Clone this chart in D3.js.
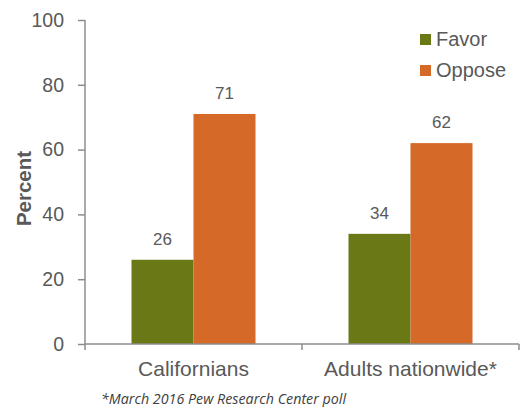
<!DOCTYPE html>
<html>
<head>
<meta charset="utf-8">
<script src="https://cdn.jsdelivr.net/npm/d3@7"></script>
<style>
  html, body { margin: 0; padding: 0; background: #fff; }
  svg { display: block; }
</style>
</head>
<body>
<svg id="chart" width="520" height="407"></svg>
<script>
// Survey results: share favoring / opposing, by group
const categories = ["Californians", "Adults nationwide*"];
const seriesNames = ["Favor", "Oppose"];
const favorValues = [26, 34];
const opposeValues = [71, 62];
const yTicks = [0, 20, 40, 60, 80, 100];
const footnote = "*March 2016 Pew Research Center poll";

const colors = { Favor: "#6A7815", Oppose: "#D46928" };
const textColor = "#595959";
const axisColor = "#8C8C8C";
const font = "Liberation Sans, Arial, sans-serif";

const svg = d3.select("#chart");
const margin = { left: 85, right: 1, top: 20, bottom: 63 };
const width = 520, height = 407;
const plotW = width - margin.left - margin.right;
const plotH = height - margin.top - margin.bottom;

const rows = categories.map((c, i) => ({
  category: c,
  values: [
    { series: "Favor", value: favorValues[i] },
    { series: "Oppose", value: opposeValues[i] }
  ]
}));

const x0 = d3.scaleBand().domain(categories).range([0, plotW]).paddingInner(0).paddingOuter(0);
const x1 = d3.scaleBand().domain(seriesNames).range([0, x0.bandwidth()]).paddingInner(0).paddingOuter(0.75);
const y = d3.scaleLinear().domain([0, 100]).range([plotH, 0]);

const g = svg.append("g").attr("transform", `translate(${margin.left},${margin.top})`);

// Bars
const groups = g.selectAll(".grp").data(rows).join("g")
  .attr("class", "grp")
  .attr("transform", d => `translate(${x0(d.category)},0)`);

groups.selectAll("rect").data(d => d.values).join("rect")
  .attr("x", d => x1(d.series))
  .attr("y", d => y(d.value))
  .attr("width", x1.bandwidth())
  .attr("height", d => plotH - y(d.value))
  .attr("fill", d => colors[d.series]);

// Value labels
groups.selectAll("text.val").data(d => d.values).join("text")
  .attr("class", "val")
  .attr("x", d => x1(d.series) + x1.bandwidth() / 2)
  .attr("y", d => y(d.value) - 15)
  .attr("text-anchor", "middle")
  .attr("font-family", font)
  .attr("font-size", 17)
  .attr("fill", textColor)
  .text(d => d.value);

// Y axis
const yAxis = g.append("g")
  .call(d3.axisLeft(y).tickValues(yTicks).tickSize(7).tickPadding(14));
yAxis.select(".domain").attr("stroke", axisColor).attr("stroke-width", 1.5)
  .attr("d", `M0,${plotH}V0`);
yAxis.selectAll(".tick line").attr("stroke", axisColor).attr("stroke-width", 1.5);
yAxis.selectAll(".tick text")
  .attr("font-family", font)
  .attr("font-size", 19.5)
  .attr("fill", textColor);

// X axis with boundary ticks
const xAxis = g.append("g").attr("transform", `translate(0,${plotH})`);
xAxis.append("line").attr("x1", 0).attr("x2", plotW).attr("y1", 0).attr("y2", 0)
  .attr("stroke", axisColor).attr("stroke-width", 1.5);
const bounds = categories.map(c => x0(c)).concat([plotW]);
xAxis.selectAll("line.tk").data(bounds).join("line")
  .attr("class", "tk")
  .attr("x1", d => d).attr("x2", d => d)
  .attr("y1", 0).attr("y2", 6)
  .attr("stroke", axisColor).attr("stroke-width", 1.5);
xAxis.selectAll("text").data(categories).join("text")
  .attr("x", d => x0(d) + x0.bandwidth() / 2)
  .attr("y", 32)
  .attr("text-anchor", "middle")
  .attr("font-family", font)
  .attr("font-size", 21)
  .attr("fill", textColor)
  .text(d => d);

// Y axis title
svg.append("text")
  .attr("transform", "translate(31,188.5) rotate(-90)")
  .attr("text-anchor", "middle")
  .attr("font-family", font)
  .attr("font-size", 20.5)
  .attr("font-weight", "bold")
  .attr("fill", textColor)
  .text("Percent");

// Legend
const legend = svg.append("g").attr("transform", "translate(420,34)");
seriesNames.forEach((s, i) => {
  const row = legend.append("g").attr("transform", `translate(0,${i * 31})`);
  row.append("rect").attr("width", 11).attr("height", 11).attr("fill", colors[s]);
  row.append("text")
    .attr("x", 16).attr("y", 12)
    .attr("font-family", font)
    .attr("font-size", 20)
    .attr("fill", textColor)
    .text(s);
});

// Footnote
svg.append("text")
  .attr("x", 101).attr("y", 404)
  .attr("font-family", "Open Sans, sans-serif")
  .attr("font-style", "italic")
  .attr("font-size", 14)
  .attr("textLength", 245)
  .attr("lengthAdjust", "spacingAndGlyphs")
  .attr("fill", "#404040")
  .text(footnote);
</script>
</body>
</html>
